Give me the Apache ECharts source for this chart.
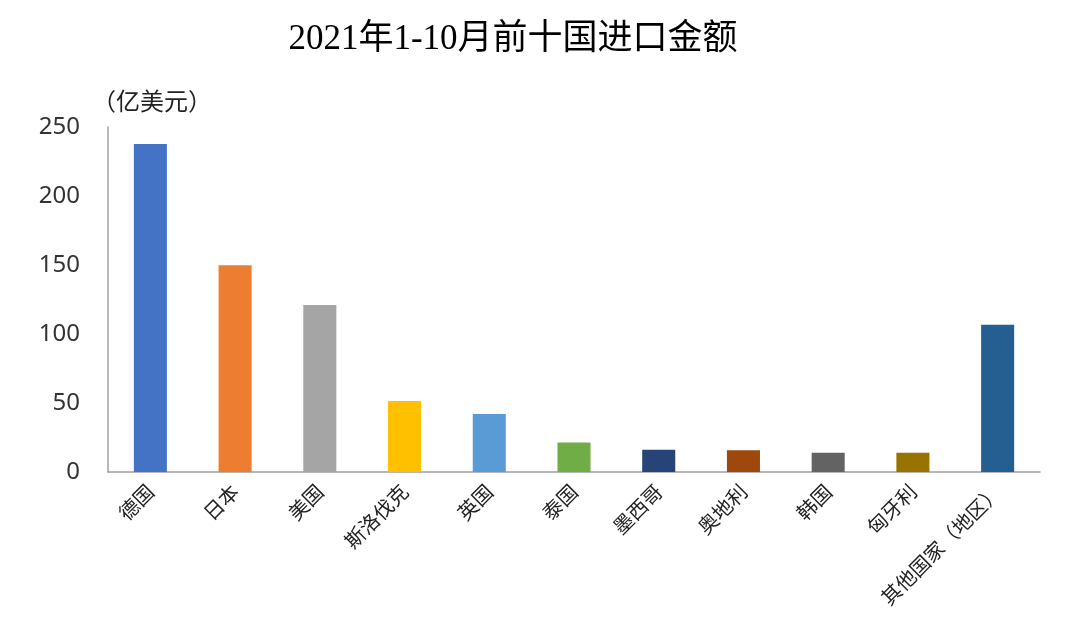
<!DOCTYPE html>
<html><head><meta charset="utf-8">
<script src="https://cdn.jsdelivr.net/npm/echarts@6/dist/echarts.min.js"></script>
<style>html,body{margin:0;padding:0;background:#fff}#c{width:1080px;height:633px}</style>
</head><body><div id="c"></div>
<script>
const categories = ['德国','日本','美国','斯洛伐克','英国','泰国','墨西哥','奥地利','韩国','匈牙利','其他国家（地区）'];
const values = [237.7, 149.8, 121.0, 51.4, 42.0, 21.4, 16.2, 15.7, 14.0, 14.0, 106.7];
const barColors = ['#4472C4','#ED7D31','#A5A5A5','#FFC000','#5B9BD5','#70AD47','#264478','#9E480E','#636363','#997300','#255E91'];
const yTicks = { min: 0, max: 250, interval: 50 };

const chart = echarts.init(document.getElementById('c'));
chart.setOption({
  animation: false,
  backgroundColor: '#fff',
  title: {
    text: '2021年1-10月前十国进口金额',
    left: 508, top: 17, textAlign: 'center',
    textStyle: { fontFamily: '"Liberation Serif", "Noto Sans CJK SC", serif', fontWeight: 'normal', fontSize: 35, color: '#000' }
  },
  grid: { left: 108, right: 40, top: 127, bottom: 161, containLabel: false },
  xAxis: {
    type: 'category', data: categories,
    axisLine: { lineStyle: { color: '#a0a0a0', width: 1.5 } },
    axisTick: { show: false },
    axisLabel: { rotate: 45, interval: 0, margin: 16, fontSize: 20, color: '#222', fontFamily: '"Noto Sans CJK SC", sans-serif' }
  },
  yAxis: {
    type: 'value', min: yTicks.min, max: yTicks.max, interval: yTicks.interval,
    name: '（亿美元）', nameLocation: 'end', nameGap: 14,
    nameTextStyle: { align: 'left', fontSize: 24, color: '#222', padding: [0, 0, 0, -16], fontFamily: '"Noto Sans CJK SC", sans-serif' },
    axisLine: { show: true, lineStyle: { color: '#a0a0a0', width: 1.5 } },
    axisTick: { show: false },
    splitLine: { show: false },
    axisLabel: { fontSize: 24, color: '#333', margin: 28, fontFamily: '"Noto Sans", sans-serif' }
  },
  series: [{
    type: 'bar', barWidth: '39%',
    data: values.map((v, i) => ({ value: v, itemStyle: { color: barColors[i] } }))
  }]
});
</script></body></html>
